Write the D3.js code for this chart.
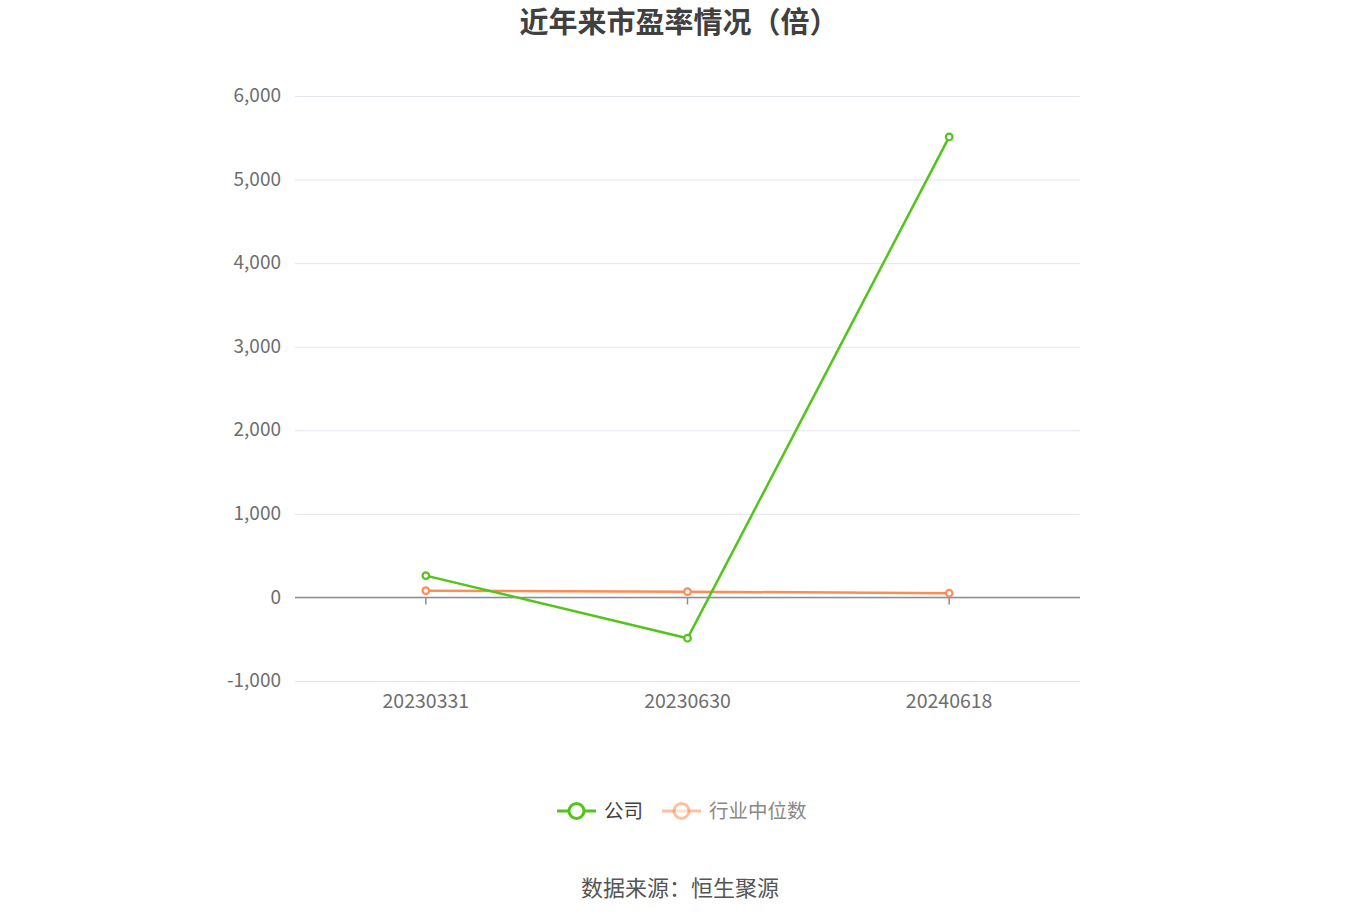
<!DOCTYPE html>
<html>
<head>
<meta charset="utf-8">
<script src="https://cdn.jsdelivr.net/npm/d3@7"></script>
<style>
  body { margin: 0; background: #fff; }
  text { font-family: "Noto Sans CJK SC", "Noto Sans", sans-serif; }
</style>
</head>
<body>
<svg id="chart" width="1360" height="920"></svg>
<script>
// chart data
const dates = ["20230331", "20230630", "20240618"];
const companyPE = [261, -488, 5510];
const industryPE = [81, 69, 50];
const yTicks = [-1000, 0, 1000, 2000, 3000, 4000, 5000, 6000];
const seriesNames = ["公司", "行业中位数"];

const svg = d3.select("#chart");
const plotLeft = 295, plotRight = 1080, plotTop = 96, plotBottom = 681;

const x = d3.scaleBand().domain(dates).range([plotLeft, plotRight]);
const y = d3.scaleLinear().domain([-1000, 6000]).range([plotBottom, plotTop]);

const green = "#52c41a";
const orange = "#ff8c55";
const commaFmt = d3.format(",");

svg.append("text")
  .attr("x", 679).attr("y", 20)
  .attr("text-anchor", "middle").attr("dominant-baseline", "central")
  .attr("font-size", 29).attr("font-weight", "bold").attr("fill", "#404040")
  .text("近年来市盈率情况（倍）");

// grid lines + y labels
const yAxis = d3.axisLeft(y).tickValues(yTicks)
  .tickSize(-(plotRight - plotLeft))
  .tickFormat(d => commaFmt(d).replace("−", "-"));
const yg = svg.append("g")
  .attr("transform", `translate(${plotLeft},0)`)
  .call(yAxis);
yg.select(".domain").remove();
yg.selectAll(".tick line").attr("stroke", "#e3e6f0").attr("stroke-width", 1);
yg.selectAll(".tick text")
  .attr("x", -14).attr("dy", "0.3em")
  .attr("font-size", 19).attr("fill", "#6e6e6e");

// zero axis with ticks at category centres
svg.append("line")
  .attr("x1", plotLeft).attr("x2", plotRight)
  .attr("y1", y(0)).attr("y2", y(0))
  .attr("stroke", "#8c8c96").attr("stroke-width", 1.5);
svg.selectAll("line.xtick").data(dates).join("line")
  .attr("class", "xtick")
  .attr("x1", d => x(d) + x.bandwidth() / 2)
  .attr("x2", d => x(d) + x.bandwidth() / 2)
  .attr("y1", y(0)).attr("y2", y(0) + 7)
  .attr("stroke", "#8c8c96").attr("stroke-width", 1.5);
svg.selectAll("text.xlabel").data(dates).join("text")
  .attr("class", "xlabel")
  .attr("x", d => x(d) + x.bandwidth() / 2)
  .attr("y", plotBottom + 18)
  .attr("text-anchor", "middle").attr("dominant-baseline", "central")
  .attr("font-size", 19.5).attr("fill", "#6e6e6e")
  .text(d => d);

const lineGen = d3.line()
  .x((d, i) => x(dates[i]) + x.bandwidth() / 2)
  .y(d => y(d));

function drawSeries(values, color) {
  svg.append("path")
    .attr("d", lineGen(values))
    .attr("fill", "none").attr("stroke", color).attr("stroke-width", 2.5);
  svg.append("g").selectAll("circle").data(values).join("circle")
    .attr("cx", (d, i) => x(dates[i]) + x.bandwidth() / 2)
    .attr("cy", d => y(d))
    .attr("r", 3.3)
    .attr("fill", "#fff").attr("stroke", color).attr("stroke-width", 2.2);
}
drawSeries(industryPE, orange);
drawSeries(companyPE, green);

// legend
const legend = [
  { name: seriesNames[0], color: green, x: 557, opacity: 1, text: "#404040" },
  { name: seriesNames[1], color: orange, x: 662, opacity: 0.55, text: "#888" }
];
const lg = svg.append("g").selectAll("g").data(legend).join("g")
  .attr("transform", d => `translate(${d.x},811)`);
lg.append("line")
  .attr("x1", 0).attr("x2", 39)
  .attr("stroke", d => d.color).attr("stroke-width", 3)
  .attr("opacity", d => d.opacity);
lg.append("circle")
  .attr("cx", 19.5).attr("r", 7.5)
  .attr("fill", "#fff").attr("stroke", d => d.color).attr("stroke-width", 3)
  .attr("opacity", d => d.opacity);
lg.append("text")
  .attr("x", 47).attr("y", -2).attr("dominant-baseline", "central")
  .attr("font-size", 19.5).attr("fill", d => d.text)
  .text(d => d.name);

svg.append("text")
  .attr("x", 680).attr("y", 886)
  .attr("text-anchor", "middle").attr("dominant-baseline", "central")
  .attr("font-size", 22).attr("fill", "#555")
  .text("数据来源：恒生聚源");
</script>
</body>
</html>
